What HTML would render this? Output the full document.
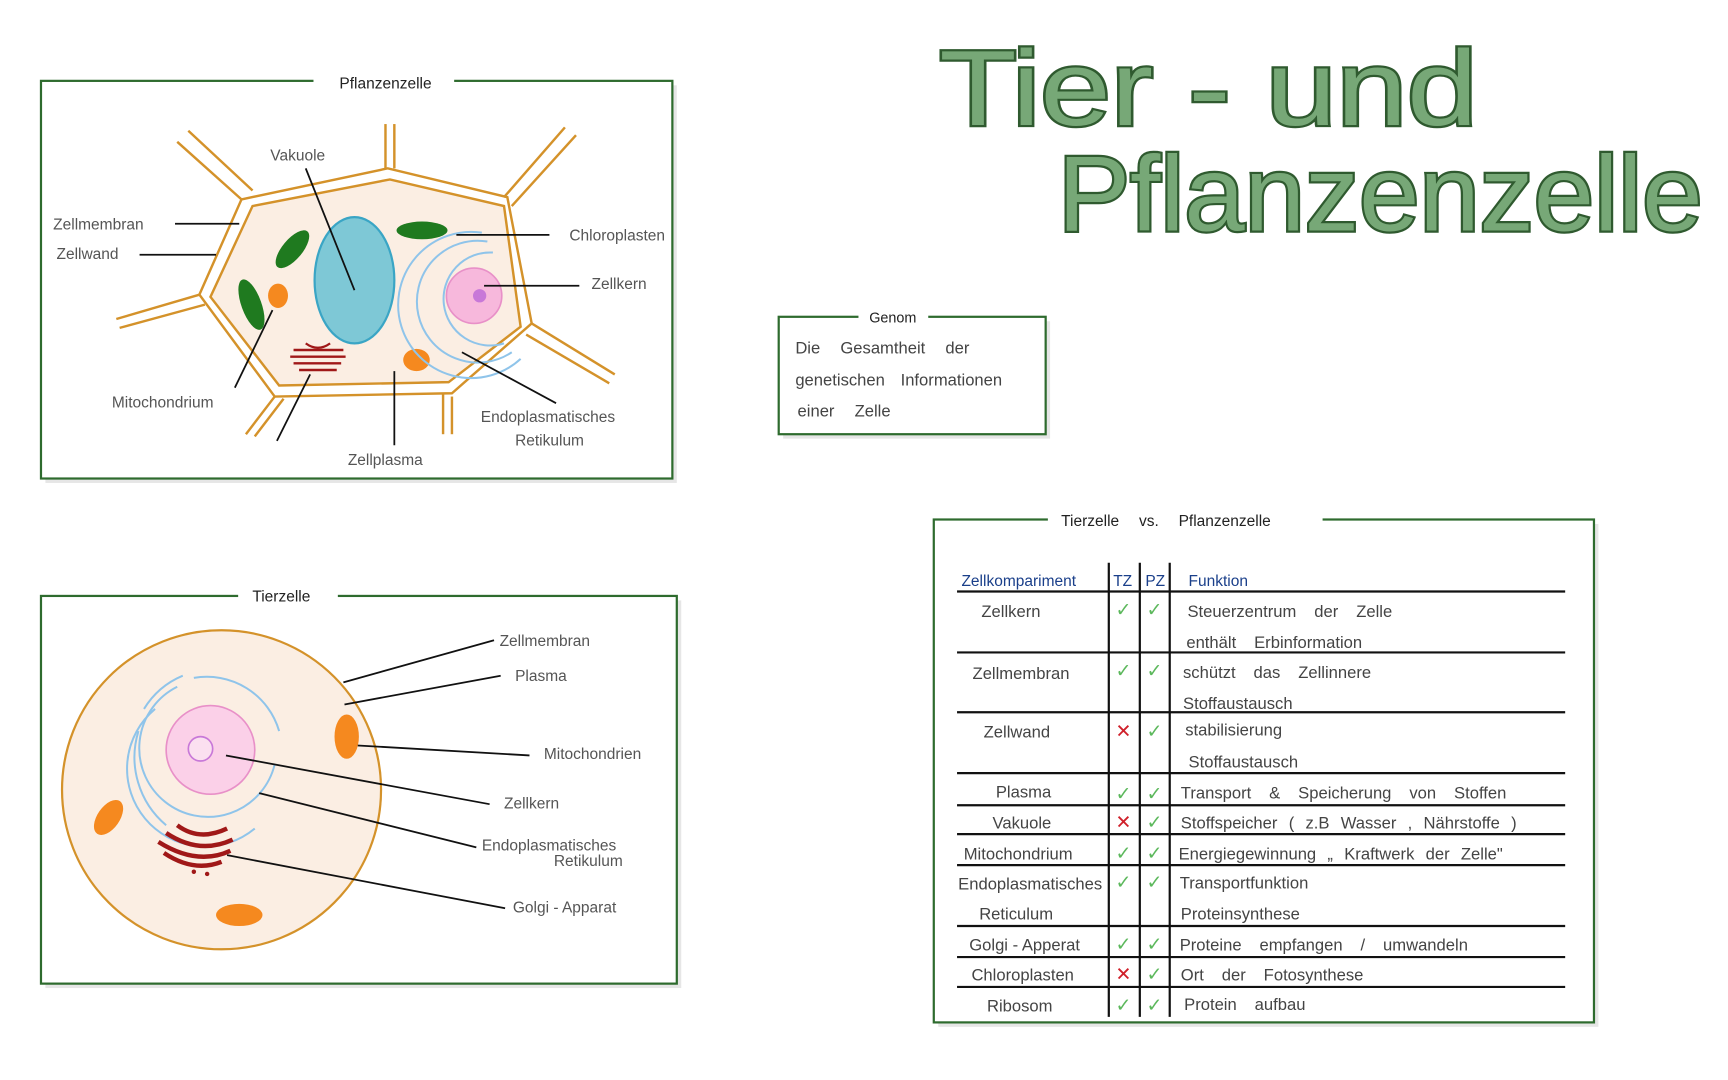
<!DOCTYPE html>
<html><head><meta charset="utf-8"><style>
html,body{margin:0;padding:0;background:#fff;width:1728px;height:1080px;overflow:hidden}
svg{display:block}
text{font-family:"Liberation Sans",sans-serif;fill:#555}
.l{stroke:#111;stroke-width:1.6;fill:none}
.t{font-size:14px}
.tb{font-size:15px;fill:#444}
</style></head><body>
<svg width="1728" height="1080" viewBox="0 0 1560 975" preserveAspectRatio="none">
<!-- Title -->
<text x="848" y="113" font-size="96" textLength="486" lengthAdjust="spacingAndGlyphs" style="fill:#77a877;stroke:#2f5a2f;stroke-width:4;paint-order:stroke">Tier - und</text>
<text x="955" y="208" font-size="96" textLength="582" lengthAdjust="spacingAndGlyphs" style="fill:#77a877;stroke:#2f5a2f;stroke-width:4;paint-order:stroke">Pflanzenzelle</text>

<!-- Pflanzenzelle box -->
<rect x="41" y="77" width="570" height="359" fill="#e6e6e6"/>
<rect x="37" y="73" width="570" height="359" fill="#fff" stroke="#2e6b2e" stroke-width="2"/>
<rect x="283" y="65" width="127" height="16" fill="#fff"/>
<text x="348" y="80" text-anchor="middle" font-size="14" style="fill:#222">Pflanzenzelle</text>
<g stroke="#d4922a" stroke-width="2.2" fill="none">
<polygon points="228,186 352,162 455,186 470,295 405,345 252,348 190,268" fill="#fbeee3"/>
<polygon points="218,180 350,152 458,178 480,292 408,355 248,358 180,266"/>
<line x1="218" y1="180" x2="160" y2="128"/><line x1="228" y1="172" x2="170" y2="118"/>
<line x1="348" y1="152" x2="348" y2="112"/><line x1="356" y1="152" x2="356" y2="112"/>
<line x1="455" y1="178" x2="510" y2="115"/><line x1="462" y1="186" x2="520" y2="122"/>
<line x1="180" y1="266" x2="105" y2="288"/><line x1="185" y1="275" x2="108" y2="296"/>
<line x1="480" y1="292" x2="555" y2="338"/><line x1="475" y1="302" x2="550" y2="346"/>
<line x1="248" y1="358" x2="222" y2="392"/><line x1="256" y1="360" x2="230" y2="394"/>
<line x1="400" y1="355" x2="400" y2="392"/><line x1="408" y1="358" x2="408" y2="392"/>
</g>
<ellipse cx="320" cy="253" rx="36" ry="57" fill="#7ec8d6" stroke="#3aa5c5" stroke-width="2"/>
<ellipse cx="381" cy="208" rx="23" ry="8" fill="#1f7a1f"/>
<ellipse cx="264" cy="225" rx="9" ry="21" transform="rotate(40 264 225)" fill="#1f7a1f"/>
<ellipse cx="227" cy="275" rx="9" ry="24" transform="rotate(-20 227 275)" fill="#1f7a1f"/>
<ellipse cx="251" cy="267" rx="9" ry="11" fill="#f5891f"/>
<ellipse cx="376" cy="325" rx="12" ry="10" fill="#f5891f"/>
<g stroke="#8fc4ea" stroke-width="1.8" fill="none">
<path d="M445,228 A42,42 0 1 0 455,310"/><path d="M440,218 A55,55 0 1 0 462,318"/><path d="M435,210 A66,66 0 1 0 470,324"/>
</g>
<circle cx="428" cy="267" r="25" fill="#f7b8dc" stroke="#e890c8" stroke-width="1.5"/>
<circle cx="433" cy="267" r="6" fill="#c878d8"/>
<g stroke="#a01818" stroke-width="2.2"><line x1="265" y1="316" x2="310" y2="316"/><line x1="262" y1="322" x2="312" y2="322"/><line x1="265" y1="328" x2="308" y2="328"/><line x1="270" y1="334" x2="304" y2="334"/></g>
<path d="M276,310 Q287,318 298,310" stroke="#a01818" stroke-width="2" fill="none"/>
<line class="l" x1="158" y1="202" x2="216" y2="202"/>
<line class="l" x1="126" y1="230" x2="195" y2="230"/>
<line class="l" x1="276" y1="152" x2="320" y2="262"/>
<line class="l" x1="412" y1="212" x2="496" y2="212"/>
<line class="l" x1="437" y1="258" x2="523" y2="258"/>
<line class="l" x1="246" y1="280" x2="212" y2="350"/>
<line class="l" x1="280" y1="338" x2="250" y2="398"/>
<line class="l" x1="356" y1="335" x2="356" y2="402"/>
<line class="l" x1="417" y1="318" x2="502" y2="364"/>
<text class="t" x="48" y="207">Zellmembran</text>
<text class="t" x="51" y="234">Zellwand</text>
<text class="t" x="244" y="145">Vakuole</text>
<text class="t" x="514" y="217">Chloroplasten</text>
<text class="t" x="534" y="261">Zellkern</text>
<text class="t" x="101" y="368">Mitochondrium</text>
<text class="t" x="434" y="381">Endoplasmatisches</text>
<text class="t" x="465" y="402">Retikulum</text>
<text class="t" x="314" y="420">Zellplasma</text>

<!-- Genom -->
<rect x="707" y="290" width="241" height="106" fill="#e6e6e6"/>
<rect x="703" y="286" width="241" height="106" fill="#fff" stroke="#2e6b2e" stroke-width="2"/>
<rect x="775" y="278" width="63" height="16" fill="#fff"/>
<text x="806" y="291" text-anchor="middle" font-size="13" style="fill:#222">Genom</text>
<text class="tb" x="718" y="319" word-spacing="14">Die Gesamtheit der</text>
<text class="tb" x="718" y="348" word-spacing="10">genetischen Informationen</text>
<text class="tb" x="720" y="376" word-spacing="14">einer Zelle</text>

<!-- Tierzelle -->
<rect x="41" y="542" width="574" height="350" fill="#e6e6e6"/>
<rect x="37" y="538" width="574" height="350" fill="#fff" stroke="#2e6b2e" stroke-width="2"/>
<rect x="215" y="530" width="90" height="16" fill="#fff"/>
<text x="254" y="543" text-anchor="middle" font-size="14" style="fill:#222">Tierzelle</text>
<ellipse cx="200" cy="713" rx="144" ry="144" fill="#fbeee3" stroke="#d4922a" stroke-width="2"/>
<g stroke="#8fc4ea" stroke-width="1.8" fill="none">
<path d="M160,620 A62,62 0 1 0 248,690"/><path d="M140,640 A70,70 0 0 0 230,748"/><path d="M125,660 A80,80 0 0 0 150,745"/>
<path d="M175,612 A68,68 0 0 1 252,660"/><path d="M130,640 A75,75 0 0 1 165,610"/>
</g>
<circle cx="190" cy="677" r="40" fill="#fbd0e8" stroke="#e890c8" stroke-width="1.5"/>
<circle cx="181" cy="676" r="11" fill="#fbe0f0" stroke="#c878d8" stroke-width="1.5"/>
<ellipse cx="313" cy="665" rx="11" ry="20" fill="#f5891f"/>
<ellipse cx="98" cy="738" rx="10" ry="18" transform="rotate(35 98 738)" fill="#f5891f"/>
<ellipse cx="216" cy="826" rx="21" ry="10" fill="#f5891f"/>
<g stroke="#a01818" stroke-width="4" fill="none">
<path d="M160,745 Q180,760 205,748"/><path d="M150,752 Q180,772 210,758"/><path d="M143,760 Q178,782 208,768"/><path d="M148,770 Q175,788 200,778"/>
</g>
<circle cx="175" cy="787" r="2" fill="#a01818"/><circle cx="187" cy="789" r="2" fill="#a01818"/>
<line class="l" x1="310" y1="616" x2="446" y2="578"/>
<line class="l" x1="311" y1="636" x2="452" y2="610"/>
<line class="l" x1="323" y1="673" x2="478" y2="682"/>
<line class="l" x1="204" y1="682" x2="442" y2="726"/>
<line class="l" x1="234" y1="716" x2="430" y2="765"/>
<line class="l" x1="205" y1="772" x2="456" y2="820"/>
<text class="t" x="451" y="583">Zellmembran</text>
<text class="t" x="465" y="615">Plasma</text>
<text class="t" x="491" y="685">Mitochondrien</text>
<text class="t" x="455" y="730">Zellkern</text>
<text class="t" x="435" y="768">Endoplasmatisches</text>
<text class="t" x="500" y="782" font-size="12">Retikulum</text>
<text class="t" x="463" y="824">Golgi - Apparat</text>

<!-- Table -->
<rect x="847" y="473" width="596" height="454" fill="#e6e6e6"/>
<rect x="843" y="469" width="596" height="454" fill="#fff" stroke="#2e6b2e" stroke-width="2"/>
<rect x="946" y="460" width="248" height="18" fill="#fff"/>
<text x="958" y="475" font-size="14" style="fill:#222" word-spacing="14">Tierzelle vs. Pflanzenzelle</text>
<g stroke="#111" stroke-width="2">
<line x1="1001" y1="508" x2="1001" y2="918"/><line x1="1029" y1="508" x2="1029" y2="918"/><line x1="1056" y1="508" x2="1056" y2="918"/>
<line x1="864" y1="534" x2="1413" y2="534"/><line x1="864" y1="589" x2="1413" y2="589"/><line x1="864" y1="643" x2="1413" y2="643"/>
<line x1="864" y1="698" x2="1413" y2="698"/><line x1="864" y1="727" x2="1413" y2="727"/><line x1="864" y1="753" x2="1413" y2="753"/>
<line x1="864" y1="781" x2="1413" y2="781"/><line x1="864" y1="836" x2="1413" y2="836"/><line x1="864" y1="864" x2="1413" y2="864"/>
<line x1="864" y1="891" x2="1413" y2="891"/>
</g>
<g font-size="14">
<text x="868" y="529" style="fill:#1a3f8a">Zellkompariment</text>
<text x="1005" y="529" style="fill:#1a3f8a">TZ</text>
<text x="1034" y="529" style="fill:#1a3f8a">PZ</text>
<text x="1073" y="529" style="fill:#1a3f8a">Funktion</text>
</g>
<g font-size="15">
<text class="tb" x="886" y="557">Zellkern</text>
<text class="tb" x="878" y="613">Zellmembran</text>
<text class="tb" x="888" y="666">Zellwand</text>
<text class="tb" x="899" y="720">Plasma</text>
<text class="tb" x="896" y="748">Vakuole</text>
<text class="tb" x="870" y="776" font-size="14">Mitochondrium</text>
<text class="tb" x="865" y="803" font-size="13">Endoplasmatisches</text>
<text class="tb" x="884" y="830" font-size="14">Reticulum</text>
<text class="tb" x="875" y="858" font-size="14">Golgi - Apperat</text>
<text class="tb" x="877" y="885" font-size="14">Chloroplasten</text>
<text class="tb" x="891" y="913" font-size="14">Ribosom</text>
</g>
<g font-size="14" word-spacing="12">
<text class="tb" x="1072" y="557" font-size="14">Steuerzentrum der Zelle</text>
<text class="tb" x="1071" y="585" font-size="14">enthält Erbinformation</text>
<text class="tb" x="1068" y="612" font-size="14">schützt das Zellinnere</text>
<text class="tb" x="1068" y="640" font-size="14">Stoffaustausch</text>
<text class="tb" x="1070" y="664" font-size="14">stabilisierung</text>
<text class="tb" x="1073" y="693" font-size="14">Stoffaustausch</text>
<text class="tb" x="1066" y="721" font-size="13">Transport &amp; Speicherung von Stoffen</text>
<text class="tb" x="1066" y="748" font-size="13" word-spacing="6">Stoffspeicher ( z.B Wasser , Nährstoffe )</text>
<text class="tb" x="1064" y="776" font-size="13" word-spacing="6">Energiegewinnung „ Kraftwerk der Zelle"</text>
<text class="tb" x="1065" y="802" font-size="13">Transportfunktion</text>
<text class="tb" x="1066" y="830" font-size="13">Proteinsynthese</text>
<text class="tb" x="1065" y="858" font-size="13">Proteine empfangen / umwandeln</text>
<text class="tb" x="1066" y="885" font-size="13">Ort der Fotosynthese</text>
<text class="tb" x="1069" y="912" font-size="14">Protein aufbau</text>
</g>
<g font-size="17">
<text x="1007" y="556" style="fill:#5cb85c">✓</text><text x="1035" y="556" style="fill:#5cb85c">✓</text>
<text x="1007" y="611" style="fill:#5cb85c">✓</text><text x="1035" y="611" style="fill:#5cb85c">✓</text>
<text x="1007" y="666" style="fill:#d0202a">✕</text><text x="1035" y="666" style="fill:#5cb85c">✓</text>
<text x="1007" y="722" style="fill:#5cb85c">✓</text><text x="1035" y="722" style="fill:#5cb85c">✓</text>
<text x="1007" y="748" style="fill:#d0202a">✕</text><text x="1035" y="748" style="fill:#5cb85c">✓</text>
<text x="1007" y="776" style="fill:#5cb85c">✓</text><text x="1035" y="776" style="fill:#5cb85c">✓</text>
<text x="1007" y="802" style="fill:#5cb85c">✓</text><text x="1035" y="802" style="fill:#5cb85c">✓</text>
<text x="1007" y="858" style="fill:#5cb85c">✓</text><text x="1035" y="858" style="fill:#5cb85c">✓</text>
<text x="1007" y="885" style="fill:#d0202a">✕</text><text x="1035" y="885" style="fill:#5cb85c">✓</text>
<text x="1007" y="913" style="fill:#5cb85c">✓</text><text x="1035" y="913" style="fill:#5cb85c">✓</text>
</g>
</svg>
</body></html>
